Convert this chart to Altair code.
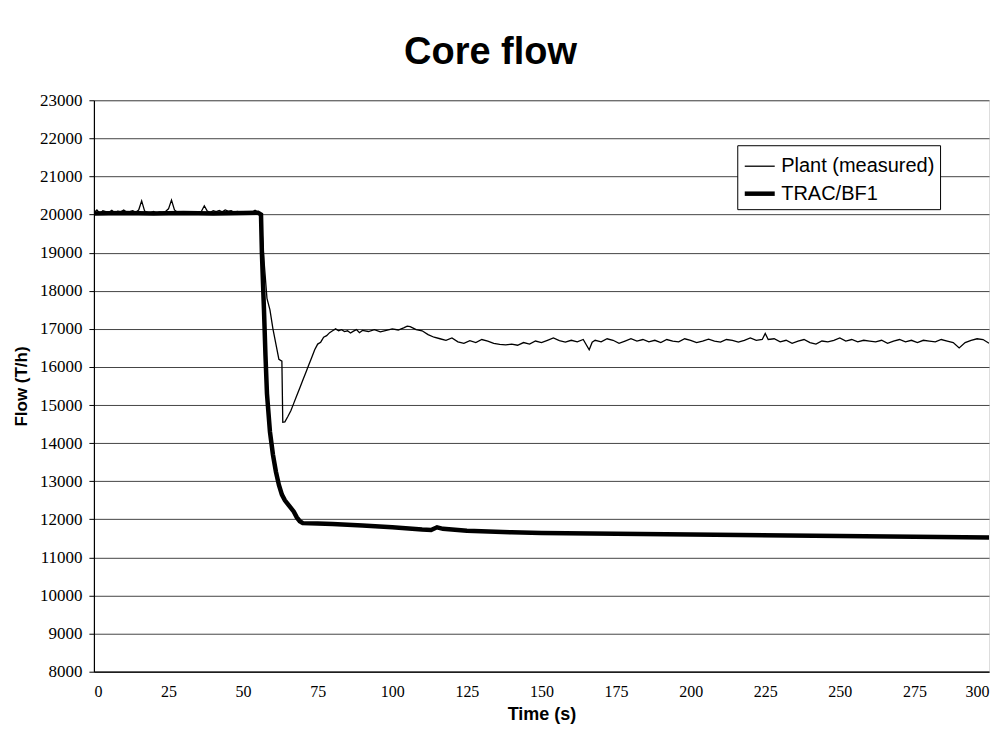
import altair as alt
import pandas as pd

plant_t = [0, 1, 2, 3, 4, 5, 6, 7, 8, 9, 10, 11, 12, 13, 14, 15, 16, 17, 18, 19, 20,
           21, 22, 23, 24, 25, 26, 27, 28, 29, 30, 31, 32, 33, 34, 35, 36, 37, 38, 39, 40,
           41, 42, 43, 44, 45, 46, 47, 48, 49, 50, 51, 52, 53, 54, 55, 56, 57, 58, 59, 60,
           61, 62, 63, 63.3, 64, 65, 66, 67, 68, 69, 70, 71, 72, 73, 74, 75, 76, 77, 78, 79,
           80, 81, 82, 83, 84, 85, 86, 87, 88, 89, 90, 92, 94, 96, 98, 100, 102, 104, 105,
           106, 107, 108, 110, 112, 114, 116, 118, 120, 122, 124, 126, 128, 130, 132, 134,
           136, 138, 140, 142, 144, 146, 148, 150, 152, 154, 156, 158, 160, 162, 164, 166,
           167, 168, 170, 172, 174, 176, 178, 180, 182, 184, 186, 188, 190, 192, 194, 196,
           198, 200, 202, 204, 206, 208, 210, 212, 214, 216, 218, 220, 222, 224, 225, 226,
           228, 230, 232, 234, 236, 238, 240, 242, 244, 246, 248, 250, 252, 254, 256, 258,
           260, 262, 264, 266, 268, 270, 272, 274, 276, 278, 280, 282, 284, 286, 288, 290,
           292, 294, 296, 298, 300]
plant_v = [20050, 20120, 20030, 20100, 20080, 20060, 20110, 20050, 20090, 20070, 20120,
           20060, 20080, 20100, 20060, 20120, 20360, 20090, 20060, 20050, 20080,
           20040, 20070, 20060, 20080, 20150, 20380, 20120, 20060, 20040, 20050,
           20070, 20060, 20040, 20060, 20050, 20080, 20230, 20090, 20060, 20100,
           20080, 20110, 20070, 20120, 20090, 20100, 20060, 20080, 20070, 20050,
           20040, 20030, 20060, 20110, 20060, 20000, 18800, 17800, 17500, 17000,
           16600, 16200, 16150, 14550, 14560, 14700, 14850, 15050, 15250, 15450,
           15650, 15850, 16050, 16250, 16450, 16600, 16650, 16780, 16820, 16900,
           16950, 17000, 16950, 16980, 16930, 16950, 16890, 16940, 16980, 16900,
           16960, 16930, 16980, 16920, 16960, 17000, 16970, 17030, 17070,
           17060, 17020, 16980, 16950, 16850, 16780, 16740, 16700, 16760, 16660,
           16620, 16690, 16640, 16720, 16680, 16620,
           16590, 16580, 16600, 16570, 16640, 16600, 16680, 16640, 16700, 16760,
           16690, 16650, 16700, 16660, 16720, 16450,
           16650, 16700, 16660, 16740, 16700, 16620, 16680, 16740, 16680, 16720,
           16660, 16700, 16640, 16720, 16680, 16660,
           16740, 16700, 16640, 16680, 16730, 16680, 16650, 16720, 16700, 16650,
           16700, 16760, 16700, 16720, 16880, 16720,
           16740, 16660, 16700, 16620, 16680, 16720, 16640, 16600, 16680, 16660,
           16700, 16760, 16680, 16720, 16660, 16700,
           16680, 16660, 16700, 16620, 16680, 16720, 16660, 16700, 16640, 16700,
           16680, 16660, 16720, 16680, 16640, 16500,
           16640, 16700, 16740, 16720, 16620]

trac_t = [0, 10, 20, 30, 40, 50, 55, 56, 56.3, 57, 57.5, 58, 59, 60, 61, 62, 63, 64, 65,
          66, 67, 68, 69, 70, 75, 80, 90, 100, 110, 113, 115, 117, 125, 140, 150, 200,
          250, 300]
trac_v = [20030, 20040, 20030, 20040, 20030, 20040, 20050, 20000, 19000, 17500, 16300,
          15300, 14300, 13700, 13250, 12900, 12650, 12500, 12400, 12300, 12200, 12050,
          11950, 11900, 11890, 11880, 11840, 11790, 11730, 11720, 11790, 11750, 11700,
          11660, 11640, 11600, 11560, 11520]

series_names = ["Plant (measured)", "TRAC/BF1"]
y_ticks = list(range(8000, 23001, 1000))
x_ticks = list(range(0, 301, 25))

df = pd.concat([
    pd.DataFrame({"t": plant_t, "v": plant_v, "s": series_names[0], "o": range(len(plant_t))}),
    pd.DataFrame({"t": trac_t, "v": trac_v, "s": series_names[1], "o": range(len(trac_t))}),
])

serif = "Liberation Serif, Times New Roman, DejaVu Serif, serif"
sans = "Liberation Sans, Arial, sans-serif"

chart = alt.Chart(df).mark_line(color="black", clip=True).encode(
    x=alt.X("t:Q", title="Time (s)",
            scale=alt.Scale(domain=[0, 300], nice=False, zero=False),
            axis=alt.Axis(values=x_ticks, grid=False, ticks=False, labelPadding=12,
                          format="d",
                          labelFont=serif, labelFontSize=16, labelColor="black",
                          titleFont=sans, titleFontWeight="bold", titleFontSize=18,
                          titleColor="black", titlePadding=6,
                          domainColor="black", domainWidth=1.2, labelOverlap=False)),
    y=alt.Y("v:Q", title="Flow (T/h)",
            scale=alt.Scale(domain=[8000, 23000], nice=False, zero=False),
            axis=alt.Axis(values=y_ticks, grid=True, gridColor="#444", gridWidth=1,
                          format="d",
                          tickSize=5, tickColor="black", labelPadding=7,
                          labelFont=serif, labelFontSize=17, labelColor="black",
                          titleFont=sans, titleFontWeight="bold", titleFontSize=17,
                          titleColor="black", titlePadding=9,
                          domainColor="black", domainWidth=1.2, labelOverlap=False)),
    strokeWidth=alt.StrokeWidth("s:N",
                                scale=alt.Scale(domain=series_names, range=[1.3, 4.5]),
                                legend=alt.Legend(title=None, orient="none",
                                                  legendX=644, legendY=45,
                                                  strokeColor="black", padding=5,
                                                  symbolType="stroke", symbolSize=900,
                                                  symbolStrokeColor="black",
                                                  labelFont=sans, labelFontSize=20,
                                                  labelColor="black", rowPadding=0,
                                                  labelOffset=4,
                                                  fillColor="white")),
    detail="s:N",
    order="o:Q",
).properties(
    width=896,
    height=572,
    title=alt.TitleParams("Core flow", anchor="middle", dx=-51, offset=19,
                          font=sans, fontWeight="bold", fontSize=38, color="black"),
    autosize=alt.AutoSizeParams(type="none"),
    padding={"left": 86, "top": 92, "right": 10, "bottom": 60},
).configure_view(
    stroke="#555", strokeDash=[3, 2], strokeWidth=1
).configure(background="white")

chart.save("out.html", embed_options={"renderer": "svg", "actions": False})
